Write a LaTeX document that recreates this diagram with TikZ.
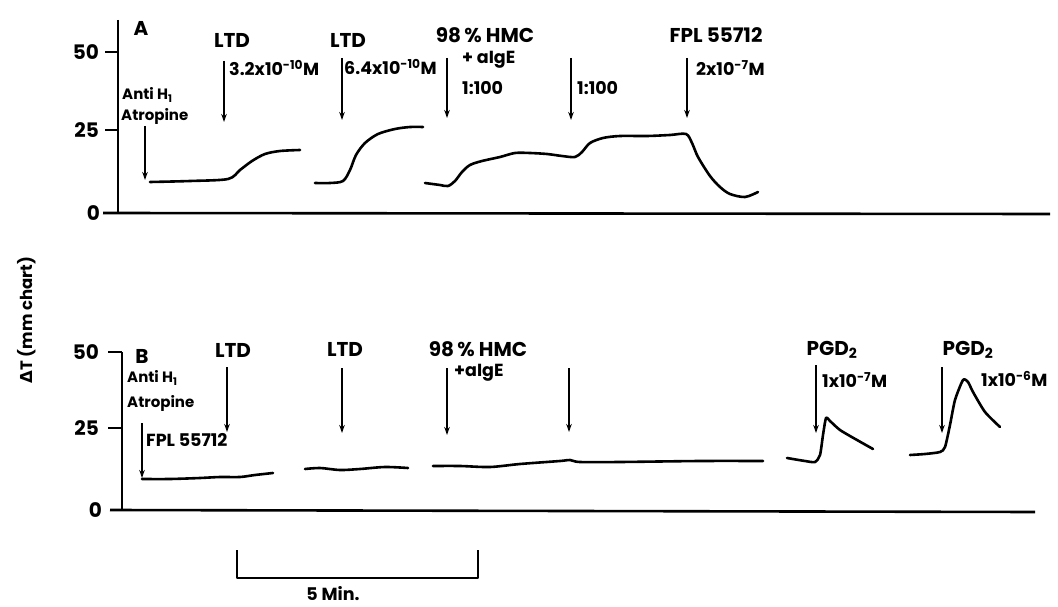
\documentclass[tikz,border=0pt]{standalone}
\usepackage{fontspec}
\setmainfont{Poppins}
\newfontfamily\dejavu{DejaVu Sans}
\usetikzlibrary{arrows.meta}
\begin{document}
\begin{tikzpicture}[x=1pt,y=-1pt,
 big/.style={font=\bfseries\fontsize{20}{20}\selectfont, inner sep=0pt},
 mid/.style={font=\bfseries\fontsize{17.5}{18}\selectfont, inner sep=0pt},
 small/.style={font=\bfseries\fontsize{15}{15}\selectfont, inner sep=0pt},
 axisline/.style={line width=2.6pt},
 trace/.style={line width=2.6pt, line join=round, line cap=round},
 marker/.style={line width=1.7pt, -{Stealth[length=8pt,width=5.5pt]}},
]
\useasboundingbox (0,0) rectangle (1058,607);

% ---------- Panel A axes ----------
\draw[axisline] (118,20) -- (118,213);
\draw[axisline] (103,213) -- (1050,214);
\draw[axisline] (105,52) -- (118,52);
\draw[axisline] (105,130) -- (118,130);
\node[big, anchor=east] (a50) at (99,52) {50};
\node[big, anchor=east] (a25) at (99,130) {25};
\node[big, anchor=east] (a0) at (100,213) {0};
\node[big] (lA) at (141,28) {A};

% ---------- Panel B axes ----------
\draw[axisline] (122,352) -- (122,511);
\draw[axisline] (110,510) -- (1035,512);
\draw[axisline] (108,352) -- (122,352);
\draw[axisline] (108,428) -- (122,428);
\node[big, anchor=east] (b50) at (99,352) {50};
\node[big, anchor=east] (b25) at (99,428) {25};
\node[big, anchor=east] (b0) at (102,510) {0};
\node[big] (lB) at (142,356) {B};

% y label
\node[mid, font=\bfseries\fontsize{16.5}{17}\selectfont, rotate=90] (ylab) at (27,320) {{\dejavu Δ}T (mm chart)};

% ---------- Panel A labels ----------
\node[small, anchor=west] (aAnti) at (122,95) {Anti H\textsubscript{1}};
\node[small, anchor=west] (aAtro) at (121,116) {Atropine};
\node[big] (aLTD1) at (232,40) {LTD};
\node[mid, anchor=west] (aC1) at (229,68) {3.2x10\textsuperscript{-10}M};
\node[big] (aLTD2) at (348,40) {LTD};
\node[mid, anchor=west] (aC2) at (344,67) {6.4x10\textsuperscript{-10}M};
\node[big] (aHMC) at (485,35) {98\,\% HMC};
\node[mid, anchor=west] (aIgE) at (462,60) {+ aIgE};
\node[mid, anchor=west] (aD1) at (462,88) {1:100};
\node[mid, anchor=west] (aD2) at (577,88) {1:100};
\node[big] (aFPL) at (716,35) {FPL 55712};
\node[mid, anchor=west] (aC3) at (696,68) {2x10\textsuperscript{-7}M};

% ---------- Panel B labels ----------
\node[small, anchor=west] (bAnti) at (127,378) {Anti H\textsubscript{1}};
\node[small, anchor=west] (bAtro) at (127,403) {Atropine};
\node[mid, anchor=west] (bFPL) at (146,440) {FPL 55712};
\node[big] (bLTD1) at (233,350) {LTD};
\node[big] (bLTD2) at (345,349) {LTD};
\node[big] (bHMC) at (478,349) {98\,\% HMC};
\node[mid, anchor=west] (bIgE) at (454,373) {+aIgE};
\node[big] (bPGD1) at (832,350) {PGD\textsubscript{2}};
\node[mid, anchor=west] (bC1) at (822,380) {1x10\textsuperscript{-7}M};
\node[big] (bPGD2) at (968,350) {PGD\textsubscript{2}};
\node[mid, anchor=west] (bC2) at (981,379) {1x10\textsuperscript{-6}M};

% ---------- Arrows ----------
\foreach \n/\x/\ya/\yb in {A1/145/126/180, A2/224/61/122, A3/342/58/120, A4/447/58/118, A5/571/58/120, A6/687/58/118,
  B1/142/423/478, B2/227/367/432, B3/342/368/433, B4/447/368/435, B5/569/368/432, B6/816/365/433, B7/942/367/433}{
  \coordinate (s\n) at (\x,\ya);
  \coordinate (e\n) at (\x,\yb);
  \draw[marker] (s\n) -- (e\n);
}

% ---------- Traces A ----------
\draw[trace] plot[smooth, tension=0.5] coordinates {(150,182) (190,181) (228,179) (240,170) (252,161) (265,154) (280,151) (300,150)};
\draw[trace] plot[smooth, tension=0.5] coordinates {(315,183) (330,183) (343,181) (350,170) (356,155) (365,143) (378,134) (395,129) (410,127) (423,127)};
\draw[trace] plot[smooth, tension=0.5] coordinates {(425,183) (440,185) (448,186) (455,181) (462,172) (470,165) (482,161) (500,157) (515,153) (530,153) (547,154) (562,156) (575,157) (582,152) (590,143) (603,138) (620,136) (647,136) (670,135) (686,134) (692,143) (698,157) (710,176) (720,187) (730,194) (745,197) (758,192)};

% ---------- Traces B ----------
\draw[trace] plot[smooth, tension=0.5] coordinates {(142,479) (170,479) (200,478) (220,477) (240,477) (255,475) (273,473)};
\draw[trace] plot[smooth, tension=0.5] coordinates {(305,469) (320,468) (340,470) (360,469) (385,467) (408,468)};
\draw[trace] plot[smooth, tension=0.5] coordinates {(433,466) (460,466) (490,467) (520,464) (560,461) (570,460) (580,462) (620,462) (700,461) (763,461)};
\draw[trace] plot[smooth, tension=0.4] coordinates {(787,458) (805,461) (815,462) (820,455) (823,435) (826,418) (830,421) (840,430) (857,440) (873,449)};
\draw[trace] plot[smooth, tension=0.4] coordinates {(910,455) (925,454) (940,452) (945,447) (950,425) (955,400) (963,380) (968,382) (973,392) (985,412) (1000,427)};

% ---------- Scale bar ----------
\coordinate (sb1) at (237,550);
\coordinate (sb2) at (237,578);
\coordinate (sb3) at (478,578);
\coordinate (sb4) at (478,550);
\draw[line width=2pt, line join=round] (sb1) -- (sb2) -- (sb3) -- (sb4);
\node[mid] (smin) at (333,594) {5 Min.};
\end{tikzpicture}
\end{document}
